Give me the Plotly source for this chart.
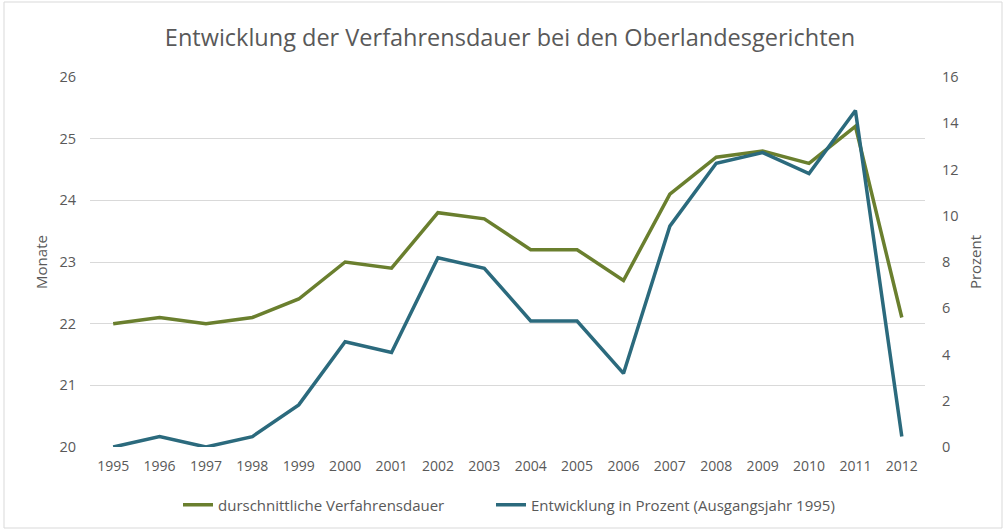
import plotly.graph_objects as go

years = [str(y) for y in range(1995, 2013)]
dauer = [22.0, 22.1, 22.0, 22.1, 22.4, 23.0, 22.9, 23.8, 23.7, 23.2, 23.2, 22.7, 24.1, 24.7, 24.8, 24.6, 25.2, 22.1]
prozent = [0.0, 0.45, 0.0, 0.45, 1.82, 4.55, 4.09, 8.18, 7.73, 5.45, 5.45, 3.18, 9.55, 12.27, 12.73, 11.82, 14.55, 0.45]

name_dauer = "durschnittliche Verfahrensdauer"
name_proz = "Entwicklung in Prozent (Ausgangsjahr 1995)"

GREEN = "#6A7F2E"
BLUE = "#2B6A7D"
TXT = "#595959"
FONT = "Open Sans"

fig = go.Figure()
fig.add_trace(go.Scatter(x=years, y=dauer, name=name_dauer, mode="lines",
                         line=dict(color=GREEN, width=3.5), yaxis="y", legend="legend"))
fig.add_trace(go.Scatter(x=years, y=prozent, name=name_proz, mode="lines",
                         line=dict(color=BLUE, width=3.5), yaxis="y2", legend="legend2"))

L, R, T, B = 90, 79, 77, 83
W, H = 1004, 530
pw, ph = W - L - R, H - T - B
leg_y = -(505 - (T + ph)) / ph

fig.update_layout(
    width=W, height=H,
    margin=dict(l=L, r=R, t=T, b=B, autoexpand=False),
    paper_bgcolor="white", plot_bgcolor="white",
    font=dict(family=FONT, color=TXT, size=14),
    title=dict(text="Entwicklung der Verfahrensdauer bei den Oberlandesgerichten",
               x=(510) / W, xanchor="center", y=1 - 38 / H, yanchor="middle",
               font=dict(size=23.5, color=TXT, family=FONT)),
    xaxis=dict(type="category", showgrid=False, showline=False, ticks="",
               tickfont=dict(size=14, color=TXT), range=[-0.5, 17.5], ticklabelstandoff=9),
    yaxis=dict(range=[20, 26], dtick=1, showgrid=True, gridcolor="#D9D9D9", gridwidth=1,
               zeroline=False, showline=False, ticks="", ticklabelstandoff=13,
               title=dict(text="Monate", font=dict(size=15, color=TXT), standoff=8),
               tickfont=dict(size=14.5, color=TXT)),
    yaxis2=dict(range=[0, 16], dtick=2, overlaying="y", side="right", showgrid=False,
                zeroline=False, showline=False, ticks="", ticklabelstandoff=16,
                title=dict(text="Prozent", font=dict(size=15, color=TXT), standoff=12),
                tickfont=dict(size=14.5, color=TXT)),
    legend=dict(orientation="h", x=(178 - L) / pw, xanchor="left",
                y=leg_y, yanchor="middle", font=dict(size=15, color=TXT)),
    legend2=dict(orientation="h", x=(491 - L) / pw, xanchor="left",
                 y=leg_y, yanchor="middle", font=dict(size=15, color=TXT)),
    showlegend=True,
)

fig.add_shape(type="rect", xref="paper", yref="paper",
              x0=(4 - L) / pw, x1=(W - 2 - L) / pw,
              y0=-(H - 2 - T - ph) / ph, y1=1 + (T - 2) / ph,
              line=dict(color="#D9D9D9", width=1), fillcolor="rgba(0,0,0,0)", layer="below")

fig.write_html("out.html", post_script="document.body.style.margin='0';",
               config={"displayModeBar": False})
